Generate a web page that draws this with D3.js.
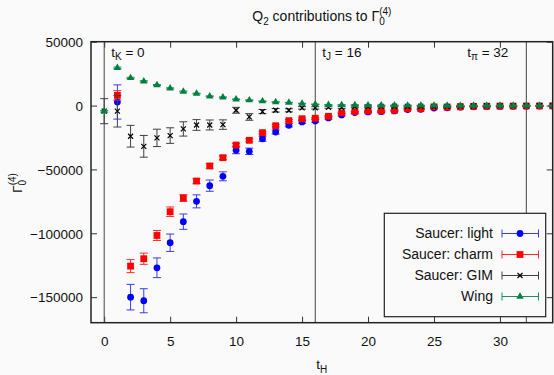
<!DOCTYPE html>
<html>
<head>
<meta charset="utf-8">
<script src="https://cdn.jsdelivr.net/npm/d3@7"></script>
<style>
body { margin: 0; background: #fafafa; }
svg { font-family: "Liberation Sans", Arial, sans-serif; }
</style>
</head>
<body>
<svg width="554" height="375"></svg>
<script>
// time slices t_H
var tSlices = [0,1,2,3,4,5,6,7,8,9,10,11,12,13,14,15,16,17,18,19,20,21,22,23,24,25,26,27,28,29,30,31,32,33,34];

// Saucer: light
var lightVal = [null, 2800, -150000, -152800, -127000, -107400, -90900, -75000, -62700, -55400, -35000, -35800, -26000, -20700, -15400, -12800, -12000, -9700, -7300, -5500, -5000, -4800, -4200, -3100, -2900, -2000, -1800, -1300, -1000, -800, -700, -600, -500, -400, -300];
var lightErr = [null, 13400, 10000, 9400, 7700, 6800, 6000, 5100, 4400, 3500, 2700, 2500, 2000, 1600, 1300, 1100, 1000, 900, 800, 700, 600, 600, 500, 500, 400, 400, 400, 300, 300, 300, 300, 200, 200, 200, 200];

// Saucer: charm
var charmVal = [null, 8000, -125700, -119900, -101700, -83100, -72400, -59100, -47300, -40800, -30900, -27200, -21200, -15800, -11800, -10300, -9900, -8400, -5700, -4700, -4200, -4200, -3700, -2400, -2400, -1000, -1200, -900, -600, -500, -400, -400, -300, -300, -200];
var charmErr = [null, 3700, 5100, 4400, 3900, 3700, 2600, 2000, 1800, 1500, 1300, 1200, 1000, 900, 800, 700, 600, 500, 500, 400, 400, 400, 300, 300, 300, 300, 200, 200, 200, 200, 200, 200, 200, 200, 200];

// Saucer: GIM
var gimVal = [-4400, -4400, -24000, -31900, -25300, -23500, -18300, -15200, -15200, -14900, -3700, -8900, -4700, -3700, -3700, -1800, -1800, -1300, -1600, -800, -800, -600, -500, -700, -500, -1000, -600, -400, -400, -300, -300, -200, -200, -100, -100];
var gimErr = [9800, 12400, 8500, 8500, 6800, 6100, 5600, 4200, 3900, 3700, 2300, 2600, 1600, 1400, 1200, 1000, 900, 800, 700, 600, 500, 500, 400, 400, 400, 300, 300, 300, 300, 200, 200, 200, 200, 200, 200];

// Wing
var wingVal = [-4400, 29500, 21600, 19000, 16100, 13500, 11000, 9400, 7300, 6500, 4900, 4200, 3400, 2800, 2300, 1600, 1000, 600, 500, 400, 300, 200, 200, 100, 100, 100, 0, 0, 0, 0, 0, 0, 0, 0, 0];
var wingErr = [600, 600, 500, 500, 400, 400, 400, 300, 300, 300, 300, 300, 200, 200, 200, 200, 200, 200, 200, 200, 200, 200, 200, 200, 200, 200, 200, 200, 200, 200, 200, 200, 200, 200, 200];

var xTicks = [0,5,10,15,20,25,30];
var yTicks = [50000,0,-50000,-100000,-150000];
var markerLines = [{t:0, sub:'K', side:'right'}, {t:16, sub:'J', side:'right'}, {t:32, sub:'π', side:'left'}];

var series = [
	{name:'Saucer: light', val:lightVal, err:lightErr, color:'#0000ff', bar:'#3a3aff', shape:'circle'},
	{name:'Saucer: charm', val:charmVal, err:charmErr, color:'#ff0000', bar:'#ff2a2a', shape:'square'},
	{name:'Saucer: GIM', val:gimVal, err:gimErr, color:'#000000', bar:'#404040', shape:'cross'},
	{name:'Wing', val:wingVal, err:wingErr, color:'#008040', bar:'#20905a', shape:'triangle'}
];

var svg = d3.select('svg');
var plotL = 91, plotR = 552.7, plotT = 41.7, plotB = 322.7;
var fs = 13.5, fsSub = 10;

var x = d3.scaleLinear().domain([-1,34]).range([plotL,plotR]);
var y = d3.scaleLinear().domain([-170000,50000]).range([plotB,plotT]);

svg.append('rect').attr('width',554).attr('height',375).attr('fill','#fafafa');

svg.append('clipPath').attr('id','plotclip')
	.append('rect').attr('x',plotL).attr('y',plotT).attr('width',plotR-plotL).attr('height',plotB-plotT);

// axes with inward ticks (mirrored)
var axB = svg.append('g').attr('transform','translate(0,'+plotB+')')
	.call(d3.axisBottom(x).tickValues(xTicks).tickSize(-6).tickPadding(14).tickFormat(d3.format('d')));
var axT = svg.append('g').attr('transform','translate(0,'+plotT+')')
	.call(d3.axisTop(x).tickValues(xTicks).tickSize(-6).tickFormat(''));
var axL = svg.append('g').attr('transform','translate('+plotL+',0)')
	.call(d3.axisLeft(y).tickValues(yTicks).tickSize(-6).tickPadding(8).tickFormat(d3.format('d')));
var axR = svg.append('g').attr('transform','translate('+plotR+',0)')
	.call(d3.axisRight(y).tickValues(yTicks).tickSize(-6).tickFormat(''));

[axB,axT,axL,axR].forEach(function(a){
	a.select('.domain').remove();
	a.selectAll('line').attr('stroke','#333');
	a.selectAll('text').attr('font-size',fs).attr('fill','#111').attr('font-family','"Liberation Sans", Arial, sans-serif');
});
axL.selectAll('text').attr('dy','0.35em');

// vertical t markers
svg.selectAll('.vline').data(markerLines).enter()
	.append('line').attr('class','vline')
	.attr('x1',function(d){ return x(d.t); }).attr('x2',function(d){ return x(d.t); })
	.attr('y1',plotT).attr('y2',plotB)
	.attr('stroke','#444').attr('stroke-width',1);

var ann = svg.selectAll('.ann').data(markerLines).enter()
	.append('text').attr('class','ann')
	.attr('x',function(d){ return d.side==='right' ? x(d.t)+7 : x(d.t)-18; })
	.attr('text-anchor',function(d){ return d.side==='right' ? 'start' : 'end'; })
	.attr('y',56.5)
	.attr('font-size',fs).attr('fill','#111');
ann.append('tspan').text('t');
ann.append('tspan').attr('font-size',fsSub).attr('dy',3.5).text(function(d){ return d.sub; });
ann.append('tspan').attr('dy',-3.5).text(function(d){ return ' = '+d.t; });

function drawShape(g, shape, color){
	if(shape==='circle'){
		g.append('circle').attr('r',3.4).attr('fill',color);
	} else if(shape==='square'){
		g.append('rect').attr('x',-3.4).attr('y',-3.4).attr('width',6.8).attr('height',6.8).attr('fill',color);
	} else if(shape==='cross'){
		g.append('path').attr('d','M-2.5,-2.5L2.5,2.5M-2.5,2.5L2.5,-2.5').attr('stroke',color).attr('stroke-width',1.2);
	} else {
		g.append('path').attr('d',d3.symbol().type(d3.symbolTriangle).size(24)()).attr('fill',color);
	}
}

var plot = svg.append('g').attr('clip-path','url(#plotclip)');

series.forEach(function(s){
	var pts = tSlices.map(function(t,i){ return {t:t, v:s.val[i], e:s.err[i]}; })
		.filter(function(d){ return d.v !== null; });
	var g = plot.append('g');
	var bars = g.selectAll('.eb').data(pts).enter().append('g').attr('class','eb')
		.attr('stroke',s.bar).attr('stroke-width',1).attr('fill','none');
	bars.append('line')
		.attr('x1',function(d){ return x(d.t); }).attr('x2',function(d){ return x(d.t); })
		.attr('y1',function(d){ return y(d.v-d.e); }).attr('y2',function(d){ return y(d.v+d.e); });
	bars.append('line')
		.attr('x1',function(d){ return x(d.t)-4; }).attr('x2',function(d){ return x(d.t)+4; })
		.attr('y1',function(d){ return y(d.v-d.e); }).attr('y2',function(d){ return y(d.v-d.e); });
	bars.append('line')
		.attr('x1',function(d){ return x(d.t)-4; }).attr('x2',function(d){ return x(d.t)+4; })
		.attr('y1',function(d){ return y(d.v+d.e); }).attr('y2',function(d){ return y(d.v+d.e); });
	g.selectAll('.pt').data(pts).enter().append('g').attr('class','pt')
		.attr('transform',function(d){ return 'translate('+x(d.t)+','+y(d.v)+')'; })
		.each(function(){ drawShape(d3.select(this), s.shape, s.color); });
});

// frame
svg.append('rect').attr('x',plotL).attr('y',plotT).attr('width',plotR-plotL).attr('height',plotB-plotT)
	.attr('fill','none').attr('stroke','#222').attr('stroke-width',1.5);

// legend
var lg = svg.append('g');
lg.append('rect').attr('x',384.3).attr('y',213.3).attr('width',161.4).attr('height',103.4)
	.attr('fill','#fafafa').attr('stroke','#222').attr('stroke-width',1.2);
var items = lg.selectAll('.li').data(series).enter().append('g').attr('class','li')
	.attr('transform',function(d,i){ return 'translate(0,'+(233.5+i*21)+')'; });
items.append('text').attr('x',493).attr('dy','0.35em').attr('text-anchor','end')
	.attr('font-size',14).attr('fill','#111').text(function(d){ return d.name; });
items.each(function(d){
	var it = d3.select(this);
	var eb = it.append('g').attr('stroke',d.bar).attr('stroke-width',1);
	eb.append('line').attr('x1',502).attr('x2',538.5).attr('y1',0).attr('y2',0);
	eb.append('line').attr('x1',502).attr('x2',502).attr('y1',-4).attr('y2',4);
	eb.append('line').attr('x1',538.5).attr('x2',538.5).attr('y1',-4).attr('y2',4);
	drawShape(it.append('g').attr('transform','translate(520,0)'), d.shape, d.color);
});

// title
var title = svg.append('text').attr('x',(plotL+plotR)/2).attr('y',21).attr('text-anchor','middle')
	.attr('font-size',14).attr('fill','#111');
title.append('tspan').text('Q');
title.append('tspan').attr('font-size',fsSub).attr('dy',3.5).text('2');
title.append('tspan').attr('dy',-3.5).text(' contributions to Γ');
title.append('tspan').attr('font-size',fsSub).attr('dy',3.5).text('0');
title.append('tspan').attr('font-size',fsSub).attr('dx',-5.5).attr('dy',-10).text('(4)');

// x label
var xl = svg.append('text').attr('x',(plotL+plotR)/2).attr('y',369).attr('text-anchor','middle')
	.attr('font-size',fs).attr('fill','#111');
xl.append('tspan').text('t');
xl.append('tspan').attr('font-size',fsSub).attr('dy',3.5).text('H');

// y label
var yl = svg.append('text').attr('transform','translate(22,183) rotate(-90)').attr('text-anchor','middle')
	.attr('font-size',fs).attr('fill','#111');
yl.append('tspan').text('Γ');
yl.append('tspan').attr('font-size',fsSub).attr('dy',3.5).text('0');
yl.append('tspan').attr('font-size',fsSub).attr('dx',-5.5).attr('dy',-10).text('(4)');
</script>
</body>
</html>
